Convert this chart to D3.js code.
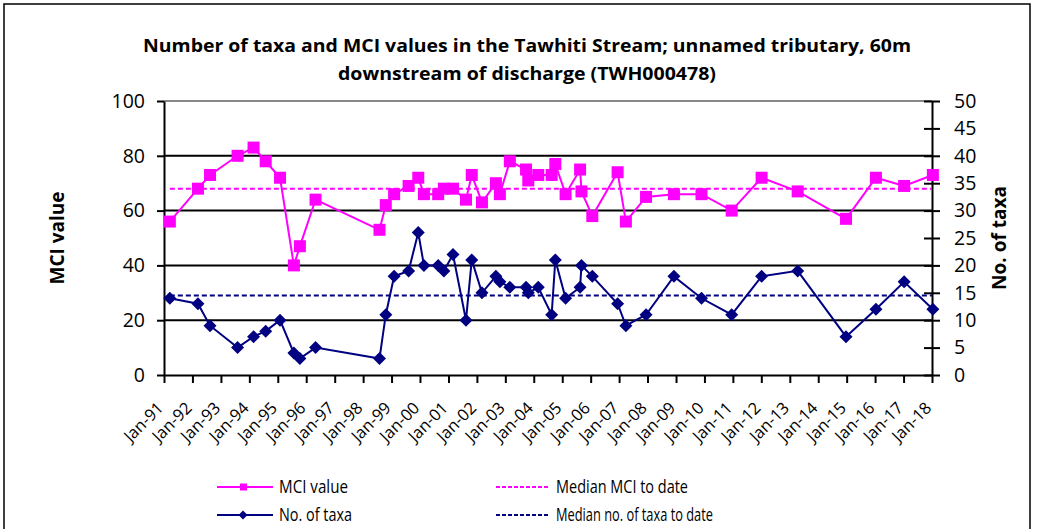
<!DOCTYPE html>
<html>
<head>
<meta charset="utf-8">
<script src="https://cdn.jsdelivr.net/npm/d3@7"></script>
<style>
  html, body { margin: 0; padding: 0; background: #fff; }
  svg { display: block; }
  text { font-family: "Open Sans", "Noto Sans", sans-serif; fill: #000; }
</style>
</head>
<body>
<svg id="chart" width="1037" height="529"></svg>
<script>
// ---- data ----
const sampleDates = ["1991-03-17","1992-03-12","1992-08-14","1993-08-03","1994-02-24","1994-07-30","1995-01-30","1995-07-27","1995-10-12","1996-04-30",
  "1998-07-30","1998-10-19","1999-02-03","1999-08-08","1999-12-10","2000-02-21","2000-08-22","2000-11-03","2001-02-28","2001-08-14",
  "2001-10-27","2002-03-07","2002-09-02","2002-10-23","2003-02-28","2003-09-24","2003-10-23","2004-02-28","2004-08-18","2004-10-04",
  "2005-02-13","2005-08-18","2005-09-05","2006-01-22","2006-12-13","2007-03-29","2007-12-13","2008-12-05","2009-11-24","2010-12-17",
  "2012-01-05","2013-04-12","2014-12-24","2016-01-12","2017-01-08","2018-01-12"];
const mciValues = [56,68,73,80,83,78,72,40,47,64,
  53,62,66,69,72,66,66,68,68,64,
  73,63,70,66,78,75,71,73,73,77,
  66,75,67,58,74,56,65,66,66,60,
  72,67,57,72,69,73];
const taxaValues = [14,13,9,5,7,8,10,4,3,5,
  3,11,18,19,26,20,20,19,22,10,
  21,15,18,17,16,16,15,16,11,21,
  14,16,20,18,13,9,11,18,14,11,
  18,19,7,12,17,12];
const medianMCI = 68;
const medianTaxa = 14.5;
const leftTicks = [0,20,40,60,80,100];
const rightTicks = [0,5,10,15,20,25,30,35,40,45,50];
const titleLines = ["Number of taxa and MCI values in the Tawhiti Stream; unnamed tributary, 60m",
                    "downstream of discharge (TWH000478)"];
const legendItems = ["MCI value","No. of taxa","Median MCI to date","Median no. of taxa to date"];

// ---- layout ----
const PINK = "#FF00FF", NAVY = "#000080";
const pL = 164, pR = 932, pT = 101, pB = 375;
const svg = d3.select("#chart");
const parse = d3.timeParse("%Y-%m-%d");
const dates = sampleDates.map(parse);

const x = d3.scaleTime().domain([new Date(1991,0,1), new Date(2018,0,1)]).range([pL, pR]);
const yL = d3.scaleLinear().domain([0,100]).range([pB, pT]);
const yR = d3.scaleLinear().domain([0,50]).range([pB, pT]);

// outer frame
svg.append("rect").attr("x",4).attr("y",4).attr("width",1026).attr("height",540)
  .attr("fill","none").attr("stroke","#000").attr("stroke-width",1.5);

// title
titleLines.forEach((t,i) => {
  svg.append("text").attr("x",527).attr("y",52 + i*28).attr("text-anchor","middle")
    .attr("font-size",18).attr("font-weight","bold").text(t)
    .attr("textLength", i===0 ? 768 : 378).attr("lengthAdjust","spacingAndGlyphs");
});

// gridlines
svg.append("g").selectAll("line").data(leftTicks.filter(d => d>0 && d<100)).join("line")
  .attr("x1",pL).attr("x2",pR).attr("y1",d=>yL(d)).attr("y2",d=>yL(d))
  .attr("stroke","#000").attr("stroke-width",2);
svg.append("line").attr("x1",pL).attr("x2",pR).attr("y1",pT).attr("y2",pT)
  .attr("stroke","#888").attr("stroke-width",2);

// axes
const axL = svg.append("g").attr("transform",`translate(${pL},0)`)
  .call(d3.axisLeft(yL).tickValues(leftTicks).tickSize(7).tickPadding(12).tickSizeOuter(0));
const axR = svg.append("g").attr("transform",`translate(${pR},0)`)
  .call(d3.axisRight(yR).tickValues(rightTicks).tickSize(8).tickPadding(14).tickSizeOuter(0));
axR.selectAll(".tick line").attr("x1",-8);
const axB = svg.append("g").attr("transform",`translate(0,${pB})`)
  .call(d3.axisBottom(x).ticks(d3.timeYear.every(1)).tickFormat(d3.timeFormat("%b-%y")).tickSize(8).tickSizeOuter(0));
[axL, axR, axB].forEach(a => {
  a.select(".domain").attr("stroke","#000").attr("stroke-width",2);
  a.selectAll(".tick line").attr("stroke","#000").attr("stroke-width",2);
});
axL.selectAll(".tick text").attr("font-size",19.5).attr("font-family","Open Sans, sans-serif");
axR.selectAll(".tick text").attr("font-size",19.5).attr("font-family","Open Sans, sans-serif");
axB.selectAll(".tick text").attr("font-size",16.5).attr("font-family","Open Sans, sans-serif")
  .attr("text-anchor","end").attr("dy",0).attr("dx",0).attr("y",0)
  .attr("transform","translate(0,34) rotate(-45)");

// axis titles
svg.append("text").attr("transform","translate(64,238) rotate(-90)").attr("text-anchor","middle")
  .attr("font-size",19).attr("font-weight","bold").text("MCI value");
svg.append("text").attr("transform","translate(1006,238) rotate(-90)").attr("text-anchor","middle")
  .attr("font-size",19).attr("font-weight","bold").text("No. of taxa");

// median lines
svg.append("line").attr("x1",x(dates[0])).attr("x2",pR).attr("y1",yL(medianMCI)).attr("y2",yL(medianMCI))
  .attr("stroke",PINK).attr("stroke-width",2).attr("stroke-dasharray","5,3");
svg.append("line").attr("x1",x(dates[0])).attr("x2",pR).attr("y1",yR(medianTaxa)).attr("y2",yR(medianTaxa))
  .attr("stroke",NAVY).attr("stroke-width",2).attr("stroke-dasharray","5,3");

// series
const mciData = dates.map((d,i)=>({d, v: mciValues[i]}));
const taxaData = dates.map((d,i)=>({d, v: taxaValues[i]}));
svg.append("path").datum(taxaData).attr("fill","none").attr("stroke",NAVY).attr("stroke-width",2)
  .attr("d", d3.line().x(p=>x(p.d)).y(p=>yR(p.v)));
svg.append("g").selectAll("path").data(taxaData).join("path")
  .attr("transform",p=>`translate(${x(p.d)},${yR(p.v)})`)
  .attr("d","M0,-6.5L6.5,0L0,6.5L-6.5,0Z").attr("fill",NAVY);
svg.append("path").datum(mciData).attr("fill","none").attr("stroke",PINK).attr("stroke-width",2)
  .attr("d", d3.line().x(p=>x(p.d)).y(p=>yL(p.v)));
svg.append("g").selectAll("rect").data(mciData).join("rect")
  .attr("x",p=>x(p.d)-6).attr("y",p=>yL(p.v)-6).attr("width",12).attr("height",12).attr("fill",PINK);

// legend
const lg = svg.append("g");
const legendPos = [[217,487],[217,515],[496,487],[496,515]];
const legendColors = [PINK, NAVY, PINK, NAVY];
const legendWidths = [69, 73, 132, 157];
legendItems.forEach((t,i) => {
  const [lx,ly] = legendPos[i];
  const len = i<2 ? 56 : 52;
  lg.append("line").attr("x1",lx).attr("x2",lx+len).attr("y1",ly).attr("y2",ly)
    .attr("stroke",legendColors[i]).attr("stroke-width",2)
    .attr("stroke-dasharray", i<2 ? null : "4,2");
  if (i===0) lg.append("rect").attr("x",lx+23).attr("y",ly-3.5).attr("width",7).attr("height",7).attr("fill",PINK);
  if (i===1) lg.append("path").attr("transform",`translate(${lx+26},${ly})`).attr("d","M0,-4.5L4.5,0L0,4.5L-4.5,0Z").attr("fill",NAVY);
  lg.append("text").attr("x", lx + (i<2 ? 62 : 60)).attr("y", ly+6).attr("font-size",17.5)
    .attr("textLength",legendWidths[i]).attr("lengthAdjust","spacingAndGlyphs").text(t);
});
</script>
</body>
</html>
